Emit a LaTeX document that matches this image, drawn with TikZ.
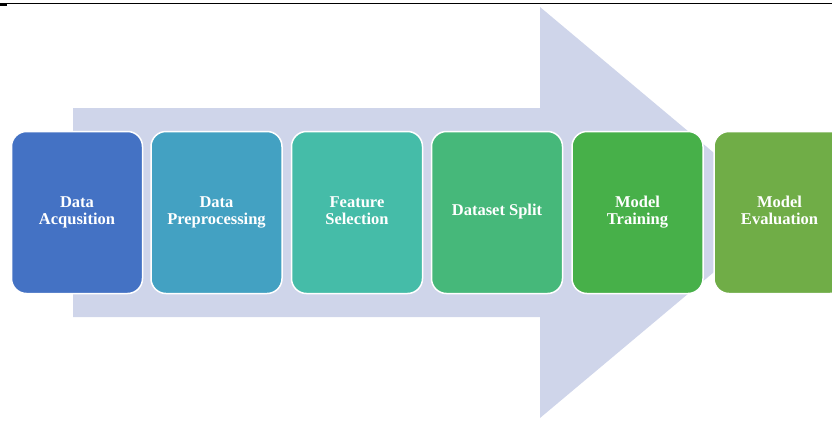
\documentclass[tikz,border=0pt]{standalone}
\usepackage{fontspec}
\setmainfont{Liberation Serif}
\begin{document}
\begin{tikzpicture}[x=1pt,y=-1pt,
  stage/.style={draw=white, line width=1.5pt, rounded corners=15pt, minimum width=131pt, minimum height=162pt,
    text=white, font=\bfseries\fontsize{16.5}{15}\selectfont, align=center, inner sep=0pt}]
\useasboundingbox (0,0) rectangle (832,421);
\definecolor{arrowbg}{HTML}{CFD5EA}
\definecolor{c1}{HTML}{4472C4}
\definecolor{c2}{HTML}{43A1C2}
\definecolor{c3}{HTML}{45BCA8}
\definecolor{c4}{HTML}{46B87A}
\definecolor{c5}{HTML}{47B049}
\definecolor{c6}{HTML}{70AD47}
% top rule
\draw[line width=1pt] (0,3.5) -- (832,3.5);
\fill (0,2.5) rectangle (7,5.5);
% big arrow
\fill[arrowbg] (73,108) -- (540,108) -- (540,7) -- (785,212.5) -- (540,418) -- (540,317) -- (73,317) -- cycle;
% stages
\node[stage, fill=c1] (b1) at (77,212.5) {\strut Data\\\strut Acqusition};
\node[stage, fill=c2] (b2) at (216.5,212.5) {\strut Data\\\strut Preprocessing};
\node[stage, fill=c3] (b3) at (357,212.5) {\strut Feature\\\strut Selection};
\node[stage, fill=c4] (b4) at (497,212.5) {\strut Dataset Split};
\node[stage, fill=c5] (b5) at (637.5,212.5) {\strut Model\\\strut Training};
\node[stage, fill=c6] (b6) at (779.5,212.5) {\strut Model\\\strut Evaluation};
\end{tikzpicture}
\end{document}
